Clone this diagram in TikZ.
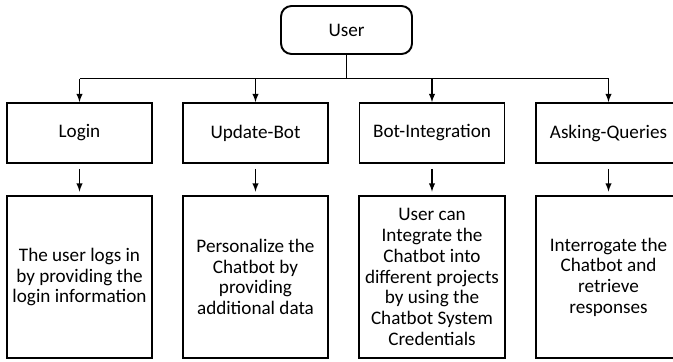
\documentclass[tikz,border=0pt]{standalone}
\usepackage{fontspec}
\setmainfont{Carlito}
\usetikzlibrary{arrows,positioning}

\tikzset{
  boxfont/.style={font=\fontsize{10.9}{11.8}\selectfont},
  userbox/.style={draw, boxfont, rounded corners=6pt, line width=1.1pt, minimum width=2.62cm, minimum height=0.96cm},
  headbox/.style={draw, boxfont, line width=1.1pt, minimum width=2.9cm, minimum height=1.2cm},
  descbox/.style={draw, boxfont, line width=1.1pt, minimum width=2.9cm, minimum height=3.24cm, align=center},
  link/.style={line width=0.6pt},
}

\begin{document}
\begin{tikzpicture}
\useasboundingbox (0,0) rectangle (13.46,-7.22);
% user on top
\node[userbox] (user) at (6.93,-0.6) {User};
% the four tasks
\node[headbox] (login) at (1.59,-2.66) {Login};
\node[headbox] (update) at (5.11,-2.66) {Update-Bot};
\node[headbox] (integ) at (8.64,-2.66) {Bot-Integration};
\node[headbox] (asking) at (12.17,-2.66) {Asking-Queries};
% what each task does
\node[descbox] (logindesc) at (1.59,-5.54) {The user logs in\\by providing the\\login information};
\node[descbox] (updatedesc) at (5.11,-5.54) {Personalize the\\Chatbot by\\providing\\additional data};
\node[descbox] (integdesc) at (8.64,-5.54) {User can\\Integrate the\\Chatbot into\\different projects\\by using the\\Chatbot System\\Credentials};
\node[descbox] (askingdesc) at (12.17,-5.54) {Interrogate the\\Chatbot and\\retrieve\\responses};
% connectors
\draw[link] (user.south) -- ++(0,-0.48) coordinate (bus);
\draw[link] (login.north |- bus) -- (asking.north |- bus);
\draw[link,-latex] (login.north |- bus) -- (login.north);
\draw[link,-latex] (update.north |- bus) -- (update.north);
\draw[link,-latex] (integ.north |- bus) -- (integ.north);
\draw[link,-latex] (asking.north |- bus) -- (asking.north);
\draw[link,-latex,shorten <=0.1cm,shorten >=0.07cm] (login) -- (logindesc);
\draw[link,-latex,shorten <=0.1cm,shorten >=0.07cm] (update) -- (updatedesc);
\draw[link,-latex,shorten <=0.1cm,shorten >=0.07cm] (integ) -- (integdesc);
\draw[link,-latex,shorten <=0.1cm,shorten >=0.07cm] (asking) -- (askingdesc);
\end{tikzpicture}
\end{document}
